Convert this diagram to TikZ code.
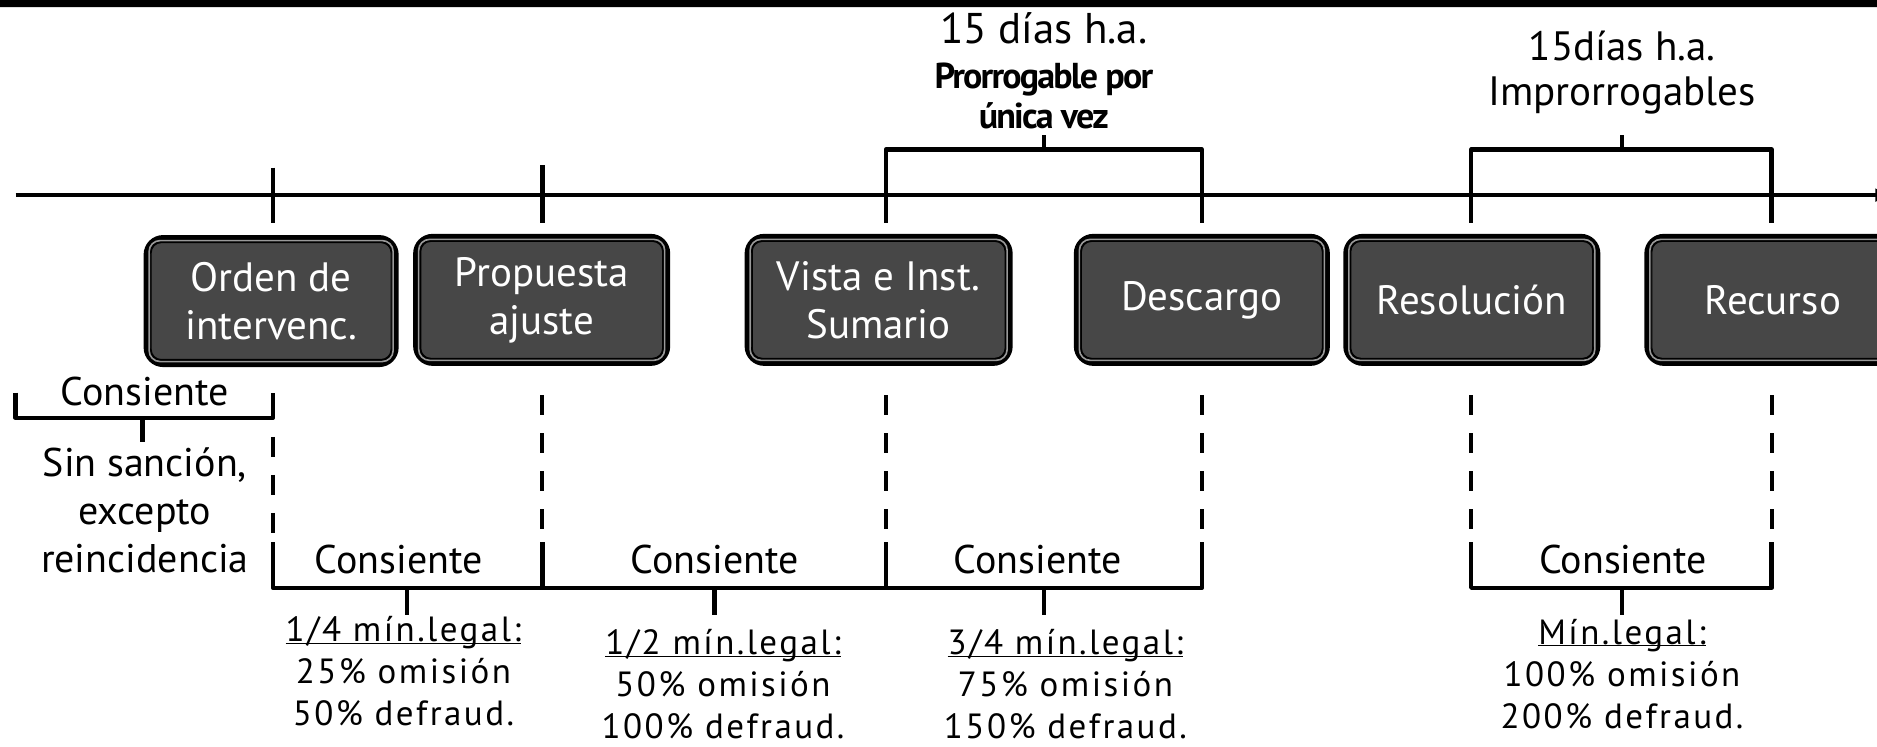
\documentclass[tikz,border=0pt]{standalone}
\usepackage{fontspec}
\setmainfont{PT Sans}
\newfontfamily\tightbold{PT Sans}[LetterSpace=-5]
\newfontfamily\widefont{PT Sans}[LetterSpace=7]
\usetikzlibrary{arrows.meta}
\definecolor{boxgray}{HTML}{474747}
\definecolor{ringgray}{HTML}{9A9A9A}
\newcommand{\ulnote}[1]{\underline{\vphantom{1}\smash{#1}}}
\tikzset{
  stage/.style={rectangle, rounded corners=16pt, fill=boxgray, draw=black, line width=7pt,
    text=white, align=center, minimum width=#1, minimum height=125pt, inner sep=0pt,
    font=\fontsize{41}{48}\selectfont},
  stage/.default=250pt,
  ring/.style={draw=ringgray, line width=1.6pt, rounded corners=11pt},
  ringin/.style={draw=black, line width=1.2pt, rounded corners=10pt},
  axis/.style={line width=4.5pt},
  brk/.style={line width=4.5pt, line join=round},
  dashv/.style={line width=4pt, dash pattern=on 20pt off 18pt},
  lbl/.style={font=\fontsize{40}{48}\selectfont, align=center, inner sep=0pt},
  pct/.style={font=\widefont\fontsize{35}{42}\selectfont, align=center, inner sep=0pt},
}
\begin{document}
\begin{tikzpicture}[x=1.197pt, y=-1.197pt]
\useasboundingbox (0,0) rectangle (1568,624);
% top bar
\fill[rounded corners=6pt] (-10,-30) rectangle (1600,6);
% marker coordinates
\foreach \n/\x in {m1/228, m2/453, m3/740, m4/1004, m5/1229, m6/1480}{
  \coordinate (\n) at (\x,163);
}
% timeline
\coordinate (tl0) at (13,163);
\coordinate (tl1) at (1580,163);
\draw[axis, -{Latex[length=16pt,width=14pt]}] (tl0) -- (tl1);
% upper ticks
\draw[brk] (228,140) -- (228,186);
\draw[brk] (453,138) -- (453,186);
% upper brackets
\draw[brk] (740,186) -- (740,125) -- (1004,125) -- (1004,186);
\draw[brk] (872,125) -- (872,113);
\draw[brk] (1229,186) -- (1229,125) -- (1480,125) -- (1480,186);
\draw[brk] (1355,125) -- (1355,113);
% upper texts
\node[lbl, font=\fontsize{43}{48}\selectfont] (t15a) at (872,24) {15 días h.a.};
\node[font=\tightbold\bfseries\fontsize{36}{40}\selectfont, align=center, inner sep=0pt] (prorr) at (872,80) {Prorrogable por\\única vez};
\node[lbl, font=\fontsize{41}{45}\selectfont] (t15b) at (1355,61) {15días h.a.\\Improrrogables};
% boxes
\node[stage=248pt] (b1) at (226.5,251.5) {Orden de\\intervenc.};
\node[stage=250pt] (b2) at (452.5,250.5) {Propuesta\\ajuste};
\node[stage=261pt] (b3) at (734,250.5) {Vista e Inst.\\Sumario};
\node[stage=249pt] (b4) at (1004,250.5) {Descargo};
\node[stage=250pt] (b5) at (1229.5,250.5) {Resolución};
\node[stage=250pt] (b6) at (1481,250.5) {Recurso};
\foreach \b in {b1,b2,b3,b4,b5,b6}{
  \draw[ring] ([xshift=5.5pt,yshift=-5.5pt]\b.north west) rectangle ([xshift=-5.5pt,yshift=5.5pt]\b.south east);
  \draw[ringin] ([xshift=7.5pt,yshift=-7.5pt]\b.north west) rectangle ([xshift=-7.5pt,yshift=7.5pt]\b.south east);
}
% left bracket
\draw[brk] (13,328) -- (13,349) -- (228,349) -- (228,328);
\draw[brk] (119,349) -- (119,369);
\node[lbl] (c0) at (121,327) {Consiente};
\node[lbl] (sin) at (121,426) {Sin sanción,\\excepto\\reincidencia};
% dashed lines
\draw[dashv] (228,365) -- (228,450);
\foreach \x in {453,740,1004,1229,1480}{
  \draw[dashv] (\x,330) -- (\x,450);
}
% lower brackets
\draw[brk] (228,453) -- (228,491) -- (1004,491) -- (1004,453);
\draw[brk] (453,453) -- (453,491);
\draw[brk] (740,453) -- (740,491);
\draw[brk] (1229,453) -- (1229,491) -- (1480,491) -- (1480,453);
\foreach \x in {340,597,872,1355}{
  \draw[brk] (\x,491) -- (\x,514);
}
\node[lbl] (c1) at (333,467) {Consiente};
\node[lbl] (c2) at (597,467) {Consiente};
\node[lbl] (c3) at (867,467) {Consiente};
\node[lbl] (c4) at (1356,467) {Consiente};
% lower texts
\node[pct] (p1) at (337,561) {\ulnote{1/4 mín.legal:}\\25\% omisión\\50\% defraud.};
\node[pct] (p2) at (604,572) {\ulnote{1/2 mín.legal:}\\50\% omisión\\100\% defraud.};
\node[pct] (p3) at (890,572) {\ulnote{3/4 mín.legal:}\\75\% omisión\\150\% defraud.};
\node[pct] (p4) at (1355,563) {\ulnote{Mín.legal:}\\100\% omisión\\200\% defraud.};
\end{tikzpicture}
\end{document}
